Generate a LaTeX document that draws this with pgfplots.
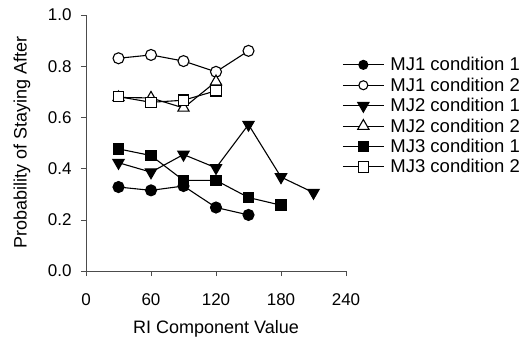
\documentclass[border=0pt]{standalone}
\usepackage{fontspec}
\setmainfont{Liberation Sans}
\usepackage{pgfplots}
\pgfplotsset{compat=1.18}
\begin{document}
\begin{tikzpicture}
\begin{axis}[
  name=ax,
  scale only axis, width=260pt, height=256pt,
  xmin=0, xmax=240, ymin=0, ymax=1,
  axis x line=bottom, axis y line=left,
  axis line style={-, black!70, line width=0.6pt},
  xtick={0,60,120,180,240}, ytick={0,0.2,0.4,0.6,0.8,1.0},
  yticklabel style={/pgf/number format/fixed, /pgf/number format/fixed zerofill, /pgf/number format/precision=1, xshift=-6pt},
  xticklabel style={yshift=-14pt},
  /pgf/number format/assume math mode=true,
  tick align=outside, major tick length=5pt,
  tick style={black!70, line width=0.6pt},
  tick label style={font=\fontsize{17}{19}\selectfont},
  label style={font=\fontsize{18}{20}\selectfont},
  xlabel={RI Component Value}, ylabel={Probability of Staying After},
  xlabel style={at={(axis description cs:0.5,-0.226)}, anchor=center},
  ylabel style={at={(axis description cs:-0.246,0.502)}, anchor=center},
  legend style={draw=none, fill=none, at={(0.985,0.843)}, anchor=north west,
    font=\fontsize{18.5}{20}\selectfont, row sep=1.5pt, column sep=4pt, inner sep=0pt},
  legend cell align=left,
  legend image code/.code={%
    \draw[#1, mark repeat=2, mark phase=2, mark size=4.5pt] plot coordinates {(0pt,0pt) (20.5pt,0pt) (41pt,0pt)};},
  every axis plot/.append style={black, line width=1.1pt, mark size=5.5pt, mark options={solid, line width=0.8pt}},
]
\addplot[mark=*, mark options={fill=black}] coordinates {(30,0.328) (60,0.315) (90,0.332) (120,0.248) (150,0.219)};
\addlegendentry{MJ1 condition 1}
\addplot[mark=*, mark options={fill=white}] coordinates {(30,0.831) (60,0.844) (90,0.820) (120,0.778) (150,0.860)};
\addlegendentry{MJ1 condition 2}
\addplot[mark=triangle*, mark options={fill=black, rotate=180, mark size=6.5pt}] coordinates {(30,0.423) (60,0.386) (90,0.455) (120,0.403) (150,0.572) (180,0.367) (210,0.306)};
\addlegendentry{MJ2 condition 1}
\addplot[mark=triangle*, mark options={fill=white, mark size=6.5pt}] coordinates {(30,0.678) (60,0.676) (90,0.637) (120,0.740)};
\addlegendentry{MJ2 condition 2}
\addplot[mark=square*, mark options={fill=black, mark size=5.2pt}] coordinates {(30,0.477) (60,0.451) (90,0.354) (120,0.354) (150,0.287) (180,0.257)};
\addlegendentry{MJ3 condition 1}
\addplot[mark=square*, mark options={fill=white, mark size=5.2pt}] coordinates {(30,0.681) (60,0.659) (90,0.667) (120,0.704)};
\addlegendentry{MJ3 condition 2}
\end{axis}
\pgfresetboundingbox
\path (ax.south west) ++(-86pt,-72pt) rectangle ++(524pt,343pt);
\end{tikzpicture}
\end{document}
